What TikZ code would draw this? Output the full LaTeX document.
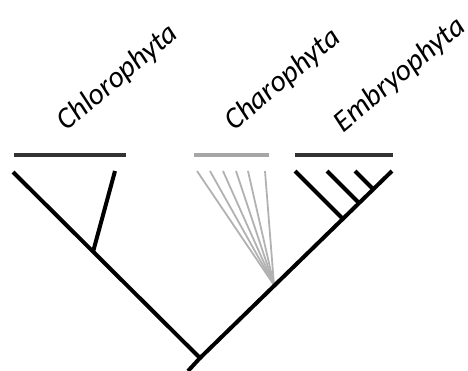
\documentclass[tikz,border=0pt]{standalone}
\usepackage{fontspec}
\setmainfont{Carlito}
\usepackage{tikz}
\tikzset{
  clade/.style={line width=2pt, black},
  fan/.style={line width=0.9pt, color=black!30},
  bar/.style={line width=1.6pt, color=black!80},
  taxon/.style={rotate=40, font=\fontsize{15}{17}\selectfont\itshape, inner sep=0pt}
}

\begin{document}
\begin{tikzpicture}[x=0.5pt,y=-0.5pt]
\useasboundingbox (0,0) rectangle (468,371);
% tree points
\coordinate (root) at (188,371);
\coordinate (rj) at (200,358);
\coordinate (ltip) at (13,172);
\coordinate (cj) at (93,252);
\coordinate (ctip) at (115,171);
\coordinate (chj) at (274,285);
\coordinate (etip) at (392,171);
\coordinate (e1) at (295,171);
\coordinate (e2) at (327,171);
\coordinate (e3) at (355,171);
\coordinate (ej1) at (343,219);
\coordinate (ej2) at (359,203);
\coordinate (ej3) at (373,189);
% Chlorophyta
\draw[clade] (root) -- (rj) -- (ltip);
\draw[clade] (cj) -- (ctip);
% Charophyta
\foreach \x in {197,210,223,236,248,265}
  \draw[fan] (chj) -- (\x,171);
% Embryophyta
\draw[clade] (rj) -- (etip);
\draw[clade] (e1) -- (ej1);
\draw[clade] (e2) -- (ej2);
\draw[clade] (e3) -- (ej3);
% bars
\draw[bar] (14,155) -- (126,155);
\draw[bar, color=black!35] (194,155) -- (269,155);
\draw[bar] (295,155) -- (393,155);
% labels
\node[taxon] (chloro) at (118,78) {Chlorophyta};
\node[taxon] (charo) at (283,80) {Charophyta};
\node[taxon] (embryo) at (400,75) {Embryophyta};
\end{tikzpicture}
\end{document}
